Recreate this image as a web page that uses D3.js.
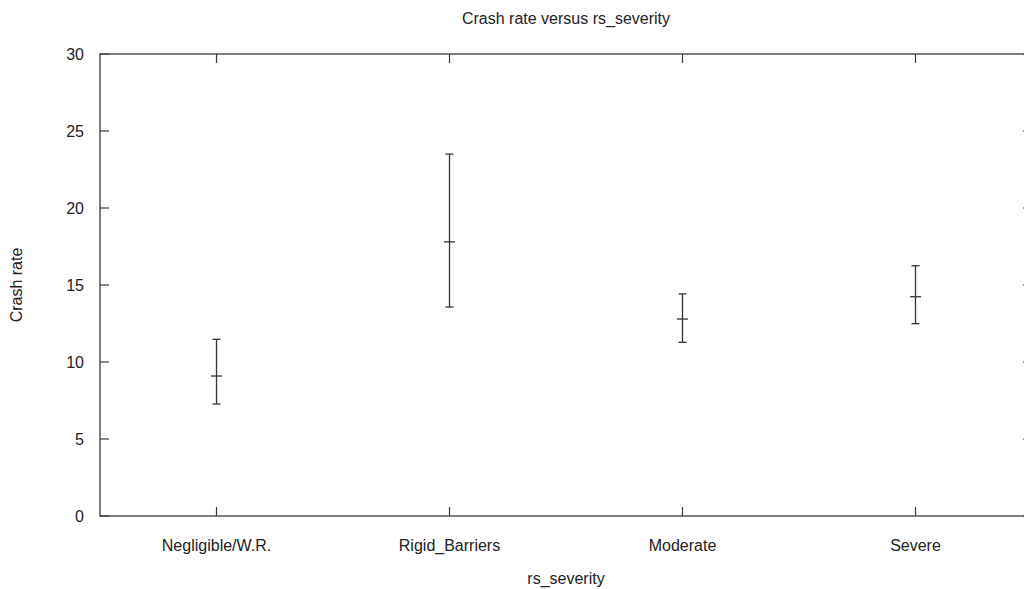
<!DOCTYPE html>
<html>
<head>
<meta charset="utf-8">
<script src="https://cdn.jsdelivr.net/npm/d3@7"></script>
<style>
  body { margin: 0; background: #fff; }
  svg text { font-family: "Liberation Sans", Arial, sans-serif; fill: #222; }
</style>
</head>
<body>
<svg id="chart"></svg>
<script>
// values
const categories = ['Negligible/W.R.', 'Rigid_Barriers', 'Moderate', 'Severe'];
const means = [9.09, 17.8, 12.79, 14.24];
const lower = [7.27, 13.57, 11.28, 12.49];
const upper = [11.47, 23.5, 14.42, 16.25];
const y_ticks = [0, 5, 10, 15, 20, 25, 30];

const width = 1024;
const height = 589;
const plot_left = 100, plot_top = 54, plot_right = 1032, plot_bottom = 516;
const tick_len = 9;
const axis_color = '#3a3a3a';

const svg = d3.select('#chart')
  .attr('width', width)
  .attr('height', height);

// x positions: 1..n on a 0.5..n+0.5 domain
const x = d3.scaleLinear().domain([0.5, categories.length + 0.5]).range([plot_left, plot_right]);
const y = d3.scaleLinear().domain([0, 30]).range([plot_bottom, plot_top]);

const rows = categories.map((c, i) => ({
  name: c, pos: i + 1, mean: means[i], lo: lower[i], hi: upper[i]
}));

// frame
svg.append('rect')
  .attr('x', plot_left).attr('y', plot_top)
  .attr('width', plot_right - plot_left).attr('height', plot_bottom - plot_top)
  .attr('fill', 'none')
  .attr('stroke', axis_color)
  .attr('stroke-width', 1.3);

// y ticks, left and mirrored right (inward)
const yt = svg.append('g');
yt.selectAll('.yl').data(y_ticks).enter().append('line')
  .attr('x1', plot_left).attr('x2', plot_left + tick_len)
  .attr('y1', d => y(d)).attr('y2', d => y(d))
  .attr('stroke', axis_color).attr('stroke-width', 1.2);
yt.selectAll('.yr').data(y_ticks).enter().append('line')
  .attr('x1', plot_right).attr('x2', plot_right - tick_len)
  .attr('y1', d => y(d)).attr('y2', d => y(d))
  .attr('stroke', axis_color).attr('stroke-width', 1.2);
yt.selectAll('text').data(y_ticks).enter().append('text')
  .attr('x', plot_left - 16)
  .attr('y', d => y(d))
  .attr('dy', '0.35em')
  .attr('text-anchor', 'end')
  .attr('font-size', 16)
  .text(d => d);

// x ticks, bottom and mirrored top
const xt = svg.append('g');
xt.selectAll('.xb').data(rows).enter().append('line')
  .attr('x1', d => x(d.pos)).attr('x2', d => x(d.pos))
  .attr('y1', plot_bottom).attr('y2', plot_bottom - tick_len)
  .attr('stroke', axis_color).attr('stroke-width', 1.2);
xt.selectAll('.xt').data(rows).enter().append('line')
  .attr('x1', d => x(d.pos)).attr('x2', d => x(d.pos))
  .attr('y1', plot_top).attr('y2', plot_top + tick_len)
  .attr('stroke', axis_color).attr('stroke-width', 1.2);
xt.selectAll('text').data(rows).enter().append('text')
  .attr('x', d => x(d.pos))
  .attr('y', 545)
  .attr('dy', '0.35em')
  .attr('text-anchor', 'middle')
  .attr('font-size', 16)
  .text(d => d.name);

// error bars
const bars = svg.append('g').selectAll('g').data(rows).enter().append('g');
bars.append('line')
  .attr('x1', d => x(d.pos)).attr('x2', d => x(d.pos))
  .attr('y1', d => y(d.hi)).attr('y2', d => y(d.lo))
  .attr('stroke', '#333').attr('stroke-width', 1.3);
bars.append('line')
  .attr('x1', d => x(d.pos) - 4).attr('x2', d => x(d.pos) + 4)
  .attr('y1', d => y(d.hi)).attr('y2', d => y(d.hi))
  .attr('stroke', '#333').attr('stroke-width', 1.3);
bars.append('line')
  .attr('x1', d => x(d.pos) - 4).attr('x2', d => x(d.pos) + 4)
  .attr('y1', d => y(d.lo)).attr('y2', d => y(d.lo))
  .attr('stroke', '#333').attr('stroke-width', 1.3);
bars.append('line')
  .attr('x1', d => x(d.pos) - 5.5).attr('x2', d => x(d.pos) + 5.5)
  .attr('y1', d => y(d.mean)).attr('y2', d => y(d.mean))
  .attr('stroke', '#333').attr('stroke-width', 1.3);

// titles
svg.append('text')
  .attr('x', (plot_left + plot_right) / 2).attr('y', 18)
  .attr('dy', '0.35em')
  .attr('text-anchor', 'middle')
  .attr('font-size', 16)
  .text('Crash rate versus rs_severity');

// reference clips this at the bottom edge; nudged up just enough to fit
svg.append('text')
  .attr('x', (plot_left + plot_right) / 2).attr('y', 584)
  .attr('text-anchor', 'middle')
  .attr('font-size', 16)
  .text('rs_severity');

svg.append('text')
  .attr('transform', `translate(16, ${(plot_top + plot_bottom) / 2}) rotate(-90)`)
  .attr('dy', '0.35em')
  .attr('text-anchor', 'middle')
  .attr('font-size', 16)
  .text('Crash rate');
</script>
</body>
</html>
